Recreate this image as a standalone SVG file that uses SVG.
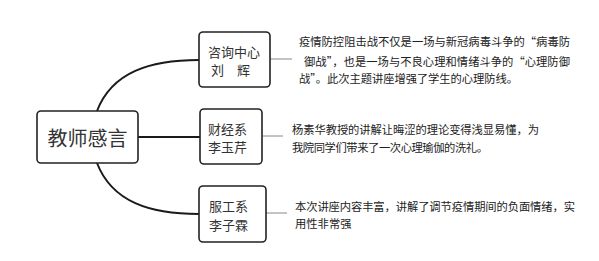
<svg xmlns="http://www.w3.org/2000/svg" width="599" height="261" viewBox="0 0 599 261">
<style>
.box{fill:#fff;stroke:#222;stroke-width:1.6}
.conn{fill:none;stroke:#1a1a1a;stroke-width:2}
.thin{fill:none;stroke:#888;stroke-width:1}
text{font-family:"Noto Sans CJK SC","Noto Sans",sans-serif;fill:#333}
.nt{font-size:13px}
.ct{font-size:20px}
.bt{font-size:11.3px;fill:#222}
</style>
<rect width="599" height="261" fill="#fff"/>
<g id="connectors">
<path class="conn" d="M97,111 C112,72 150,60 199,60"/>
<path class="conn" d="M138,137 L200,137"/>
<path class="conn" d="M97,163 C112,202 150,214 199,214"/>
<path class="thin" d="M270,59 L292,59"/>
<path class="thin" d="M263,136 L283,136"/>
<path class="thin" d="M266,213 L287,213"/>
</g>
<g id="center">
<rect class="box" x="37" y="111" width="101" height="52" rx="4"/>
<text class="ct" x="87.5" y="145.5" text-anchor="middle">教师感言</text>
</g>
<g id="node1">
<rect class="box" x="199" y="32" width="71" height="55" rx="4"/>
<text class="nt" x="208" y="57">咨询中心</text>
<text class="nt" x="211" y="75">刘</text>
<text class="nt" x="237" y="75">辉</text>
</g>
<g id="node2">
<rect class="box" x="200" y="109" width="62" height="55" rx="4"/>
<text class="nt" x="208" y="134">财经系</text>
<text class="nt" x="208" y="152">李玉芹</text>
</g>
<g id="node3">
<rect class="box" x="199" y="186" width="67" height="56" rx="4"/>
<text class="nt" x="209" y="211">服工系</text>
<text class="nt" x="209" y="230">李子霖</text>
</g>
<g id="text1">
<text class="bt" x="299" y="46.3" textLength="271" lengthAdjust="spacing">疫情防控阻击战不仅是一场与新冠病毒斗争的“病毒防</text>
<text class="bt" x="304" y="66" textLength="266" lengthAdjust="spacing">御战”，也是一场与不良心理和情绪斗争的“心理防御</text>
<text class="bt" x="299" y="83.3" textLength="219" lengthAdjust="spacing">战”。此次主题讲座增强了学生的心理防线。</text>
</g>
<g id="text2">
<text class="bt" x="292" y="134.3" textLength="247" lengthAdjust="spacing">杨素华教授的讲解让晦涩的理论变得浅显易懂，为</text>
<text class="bt" x="292" y="152.3" textLength="196" lengthAdjust="spacing">我院同学们带来了一次心理瑜伽的洗礼。</text>
</g>
<g id="text3">
<text class="bt" x="295" y="211.3" textLength="280" lengthAdjust="spacing">本次讲座内容丰富，讲解了调节疫情期间的负面情绪，实</text>
<text class="bt" x="295" y="228.3">用性非常强</text>
</g>
</svg>
